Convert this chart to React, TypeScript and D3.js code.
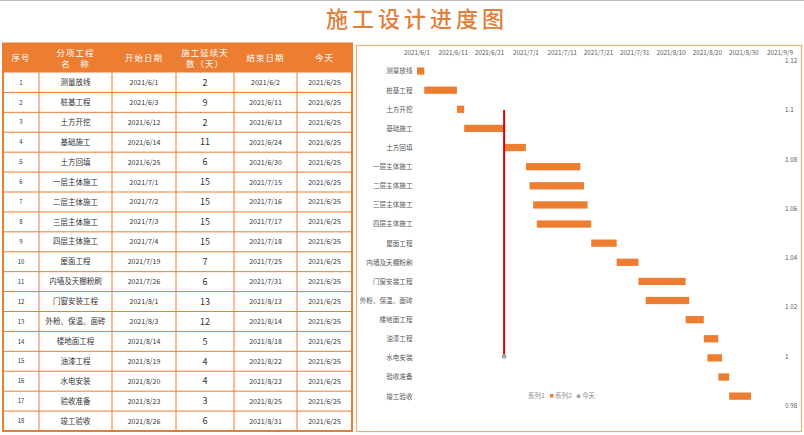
import React from 'react';
import * as d3 from 'd3';

const names = ['测量放线', '桩基工程', '土方开挖', '基础施工', '土方回填', '一层主体施工', '二层主体施工', '三层主体施工', '四层主体施工', '屋面工程', '内墙及天棚粉刷', '门窗安装工程', '外粉、保温、面砖', '楼地面工程', '油漆工程', '水电安装', '验收准备', '竣工验收'];
const starts = ['2021/6/1', '2021/6/3', '2021/6/12', '2021/6/14', '2021/6/25', '2021/7/1', '2021/7/2', '2021/7/3', '2021/7/4', '2021/7/19', '2021/7/26', '2021/8/1', '2021/8/3', '2021/8/14', '2021/8/19', '2021/8/20', '2021/8/23', '2021/8/26'];
const durations = [2, 9, 2, 11, 6, 15, 15, 15, 15, 7, 6, 13, 12, 5, 4, 4, 3, 6];
const ends = ['2021/6/2', '2021/6/11', '2021/6/13', '2021/6/24', '2021/6/30', '2021/7/15', '2021/7/16', '2021/7/17', '2021/7/18', '2021/7/25', '2021/7/31', '2021/8/13', '2021/8/14', '2021/8/18', '2021/8/22', '2021/8/23', '2021/8/25', '2021/8/31'];
const today = '2021/6/25';
const dateTicks = ['2021/6/1', '2021/6/11', '2021/6/21', '2021/7/1', '2021/7/11', '2021/7/21', '2021/7/31', '2021/8/10', '2021/8/20', '2021/8/30', '2021/9/9'];
const rightTicks = [0.98, 1, 1.02, 1.04, 1.06, 1.08, 1.1, 1.12];
const todayValue = 1;
const todayBar = 0.1;

const parse = d3.timeParse('%Y/%m/%d');
const ORANGE = '#ED7D31';
const FONT = '"Noto Sans CJK SC", "Noto Sans", sans-serif';

export default function App() {
  // table layout
  const colEdges = [3, 39, 112, 176, 234, 297, 352];
  const headTop = 43.5;
  const headBottom = 72.5;
  const rowY = d3.scaleBand<number>()
    .domain(d3.range(names.length))
    .range([headBottom, 431]);

  // chart scales
  const x = d3.scaleTime()
    .domain([parse(dateTicks[0])!, parse(dateTicks[dateTicks.length - 1])!])
    .range([417, 780]);
  const y = d3.scaleBand<string>()
    .domain(names)
    .range([61.5, 405.7])
    .paddingInner(0.62)
    .paddingOuter(0.31);
  const y2 = d3.scaleLinear().domain([0.98, 1.12]).range([405.7, 60.7]);

  const tableText = (i: number, col: number) => {
    const cx = (colEdges[col] + colEdges[col + 1]) / 2;
    const cy = rowY(i)! + rowY.bandwidth() / 2;
    const vals = [String(i + 1), names[i], starts[i], String(durations[i]), ends[i], today];
    const sizes = [6, 7.5, 7, 9, 7, 7];
    return (
      <text key={`c${i}-${col}`} x={cx} y={cy} dy="0.36em" textAnchor="middle"
        fontSize={sizes[col]} fill="#333">{vals[col]}</text>
    );
  };

  const headers: string[][] = [['序号'], ['分项工程', '名　称'], ['开始日期'], ['施工延续天', '数（天）'], ['结束日期'], ['今天']];
  const tx = x(parse(today)!);

  return (
    <svg width={804} height={435} style={{ position: 'absolute', left: 0, top: 0, fontFamily: FONT }}>
      <rect x={0} y={0} width={804} height={435} fill="#fff" />
      <line x1={0} x2={804} y1={0.5} y2={0.5} stroke="#bbb" />
      <text x={417} y={19} dy="0.36em" textAnchor="middle" fontSize={22} fill="#E0803A"
        letterSpacing={4} fontWeight={500}>施工设计进度图</text>

      {/* table */}
      <rect x={colEdges[0]} y={headTop} width={colEdges[6] - colEdges[0]} height={headBottom - headTop} fill={ORANGE} />
      {headers.map((h, c) => {
        const cx = (colEdges[c] + colEdges[c + 1]) / 2;
        const cy = (headTop + headBottom) / 2;
        return (
          <text key={`h${c}`} textAnchor="middle" fontSize={8.5} fill="#fff" letterSpacing={1}>
            {h.map((t, k) => (
              <tspan key={k} x={cx} y={cy + (k - (h.length - 1) / 2) * 11} dy="0.36em">{t}</tspan>
            ))}
          </text>
        );
      })}
      {d3.range(names.length).map(i => (
        <line key={`r${i}`} x1={colEdges[0]} x2={colEdges[6]} y1={rowY(i)! + rowY.bandwidth()} y2={rowY(i)! + rowY.bandwidth()}
          stroke={ORANGE} strokeWidth={1} />
      ))}
      {colEdges.slice(1, -1).map((cx, k) => (
        <line key={`v${k}`} x1={cx} x2={cx} y1={headBottom} y2={431} stroke={ORANGE} strokeWidth={1} />
      ))}
      {d3.range(names.length).map(i => d3.range(6).map(c => tableText(i, c)))}
      <rect x={colEdges[0]} y={headTop} width={colEdges[6] - colEdges[0]} height={431 - headTop}
        fill="none" stroke="#E67E30" strokeWidth={2} />

      {/* chart panel */}
      <rect x={356.5} y={45.5} width={445} height={386} fill="#fff" stroke="#F2AE74" strokeWidth={1.2} />
      {dateTicks.map(t => (
        <text key={t} x={x(parse(t)!)} y={53} dy="0.36em" textAnchor="middle" fontSize={6.3} fill="#595959">{t}</text>
      ))}
      {rightTicks.map(v => (
        <text key={v} x={785} y={y2(v)} dy="0.36em" fontSize={6.3} fill="#595959">{String(v)}</text>
      ))}
      {names.map(n => (
        <text key={n} x={412.5} y={y(n)! + y.bandwidth() / 2} dy="0.36em" textAnchor="end" fontSize={6.6} fill="#595959">{n}</text>
      ))}
      {names.map((n, i) => {
        const s = parse(starts[i])!;
        const e = d3.timeDay.offset(s, durations[i]);
        return <rect key={`b${i}`} x={x(s)} y={y(n)!} width={x(e) - x(s)} height={y.bandwidth()} fill={ORANGE} />;
      })}
      <line x1={tx} x2={tx} y1={y2(todayValue)} y2={y2(todayValue + todayBar)} stroke="#E00000" strokeWidth={2} />
      <circle cx={tx} cy={y2(todayValue)} r={2.4} fill="#A5A5A5" />

      {/* legend */}
      <g fontSize={6.6} fill="#8c8c8c">
        <text x={528} y={396} dy="0.36em">系列1</text>
        <rect x={550} y={394} width={3.5} height={3.5} fill={ORANGE} />
        <text x={555} y={396} dy="0.36em">系列2</text>
        <circle cx={578.5} cy={396.3} r={2} fill="#A5A5A5" />
        <text x={582} y={396} dy="0.36em">今天</text>
      </g>
    </svg>
  );
}
